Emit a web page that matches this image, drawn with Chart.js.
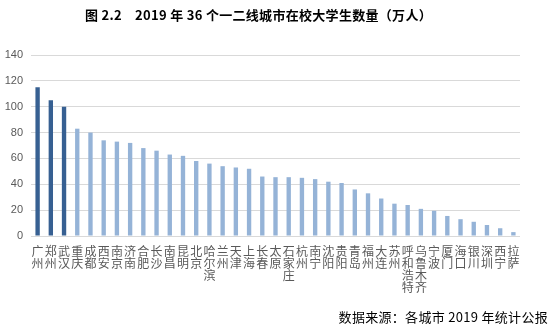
<!DOCTYPE html>
<html>
<head>
<meta charset="utf-8">
<script src="https://cdn.jsdelivr.net/npm/chart.js@4"></script>
<style>
  html, body { margin: 0; padding: 0; background: #fff; }
  #wrap { position: relative; width: 554px; height: 330px; overflow: hidden; }
  #chart { position: absolute; left: 0; top: 0; }
  .title {
    position: absolute; left: 85px; top: 5px;
    font: bold 13px "Noto Sans CJK SC", sans-serif; color: #000; white-space: pre;
    letter-spacing: 0.3px;
  }
  .source {
    position: absolute; right: 6px; top: 307px;
    font: 13px "Noto Sans CJK SC", sans-serif; color: #000; white-space: pre;
    letter-spacing: 0.3px;
  }
</style>
</head>
<body>
<div id="wrap">
  <canvas id="chart" width="554" height="330"></canvas>
  <div class="title">图 2.2    2019 年 36 个一二线城市在校大学生数量（万人）</div>
  <div class="source">数据来源：各城市 2019 年统计公报</div>
</div>
<script>
// 在校大学生数量（万人），按城市从高到低
const cities = [
  "广州", "郑州", "武汉", "重庆", "成都", "西安", "南京", "济南", "合肥", "长沙",
  "南昌", "昆明", "北京", "哈尔滨", "兰州", "天津", "上海", "长春", "太原", "石家庄",
  "杭州", "南宁", "沈阳", "贵阳", "青岛", "福州", "大连", "苏州", "呼和浩特", "乌鲁木齐",
  "宁波", "厦门", "海口", "银川", "深圳", "西宁", "拉萨"
];
const students = [
  115, 105, 100, 83, 80, 74, 73, 72, 68, 66,
  63, 62, 58, 56, 54, 53, 52, 46, 45.5, 45.5,
  45, 44, 42, 41, 36, 33, 29, 25, 24, 21,
  19.5, 15.5, 13, 11, 8.5, 6, 3
];
const yTicks = [0, 20, 40, 60, 80, 100, 120, 140];
const topCount = 3; // 前三名用深色

const darkBlue = "#376092";
const lightBlue = "#95b3d7";
const gridGrey = "#d9d9d9";
const tickGrey = "#595959";

function initializeChart() {
  const ctx = document.getElementById("chart").getContext("2d");

  new Chart(ctx, {
    type: "bar",
    data: {
      // 竖排城市名：每个字一行
      labels: cities.map(c => c.split("")),
      datasets: [{
        data: students,
        backgroundColor: students.map((v, i) => i < topCount ? darkBlue : lightBlue),
        borderWidth: 0,
        barPercentage: 0.33,
        categoryPercentage: 1
      }]
    },
    options: {
      responsive: false,
      animation: false,
      layout: { padding: { left: 0, right: 34, top: 55, bottom: 0 } },
      plugins: {
        legend: { display: false },
        tooltip: { enabled: false }
      },
      scales: {
        x: {
          grid: { display: false },
          border: { display: false },
          ticks: {
            autoSkip: false,
            maxRotation: 0,
            minRotation: 0,
            padding: 1,
            color: tickGrey,
            font: { family: "Noto Sans CJK SC", size: 12, lineHeight: 1.02 }
          },
          afterFit: scale => { scale.height = 94; }
        },
        y: {
          min: 0,
          max: 140,
          afterBuildTicks: scale => { scale.ticks = yTicks.map(v => ({ value: v })); },
          grid: { color: gridGrey, lineWidth: 1, drawTicks: false },
          border: { display: false },
          ticks: {
            padding: 8,
            color: tickGrey,
            font: { family: "Liberation Sans", size: 11 }
          },
          afterFit: scale => { scale.width = 31; }
        }
      }
    }
  });
}

document.addEventListener("DOMContentLoaded", initializeChart);
</script>
</body>
</html>
